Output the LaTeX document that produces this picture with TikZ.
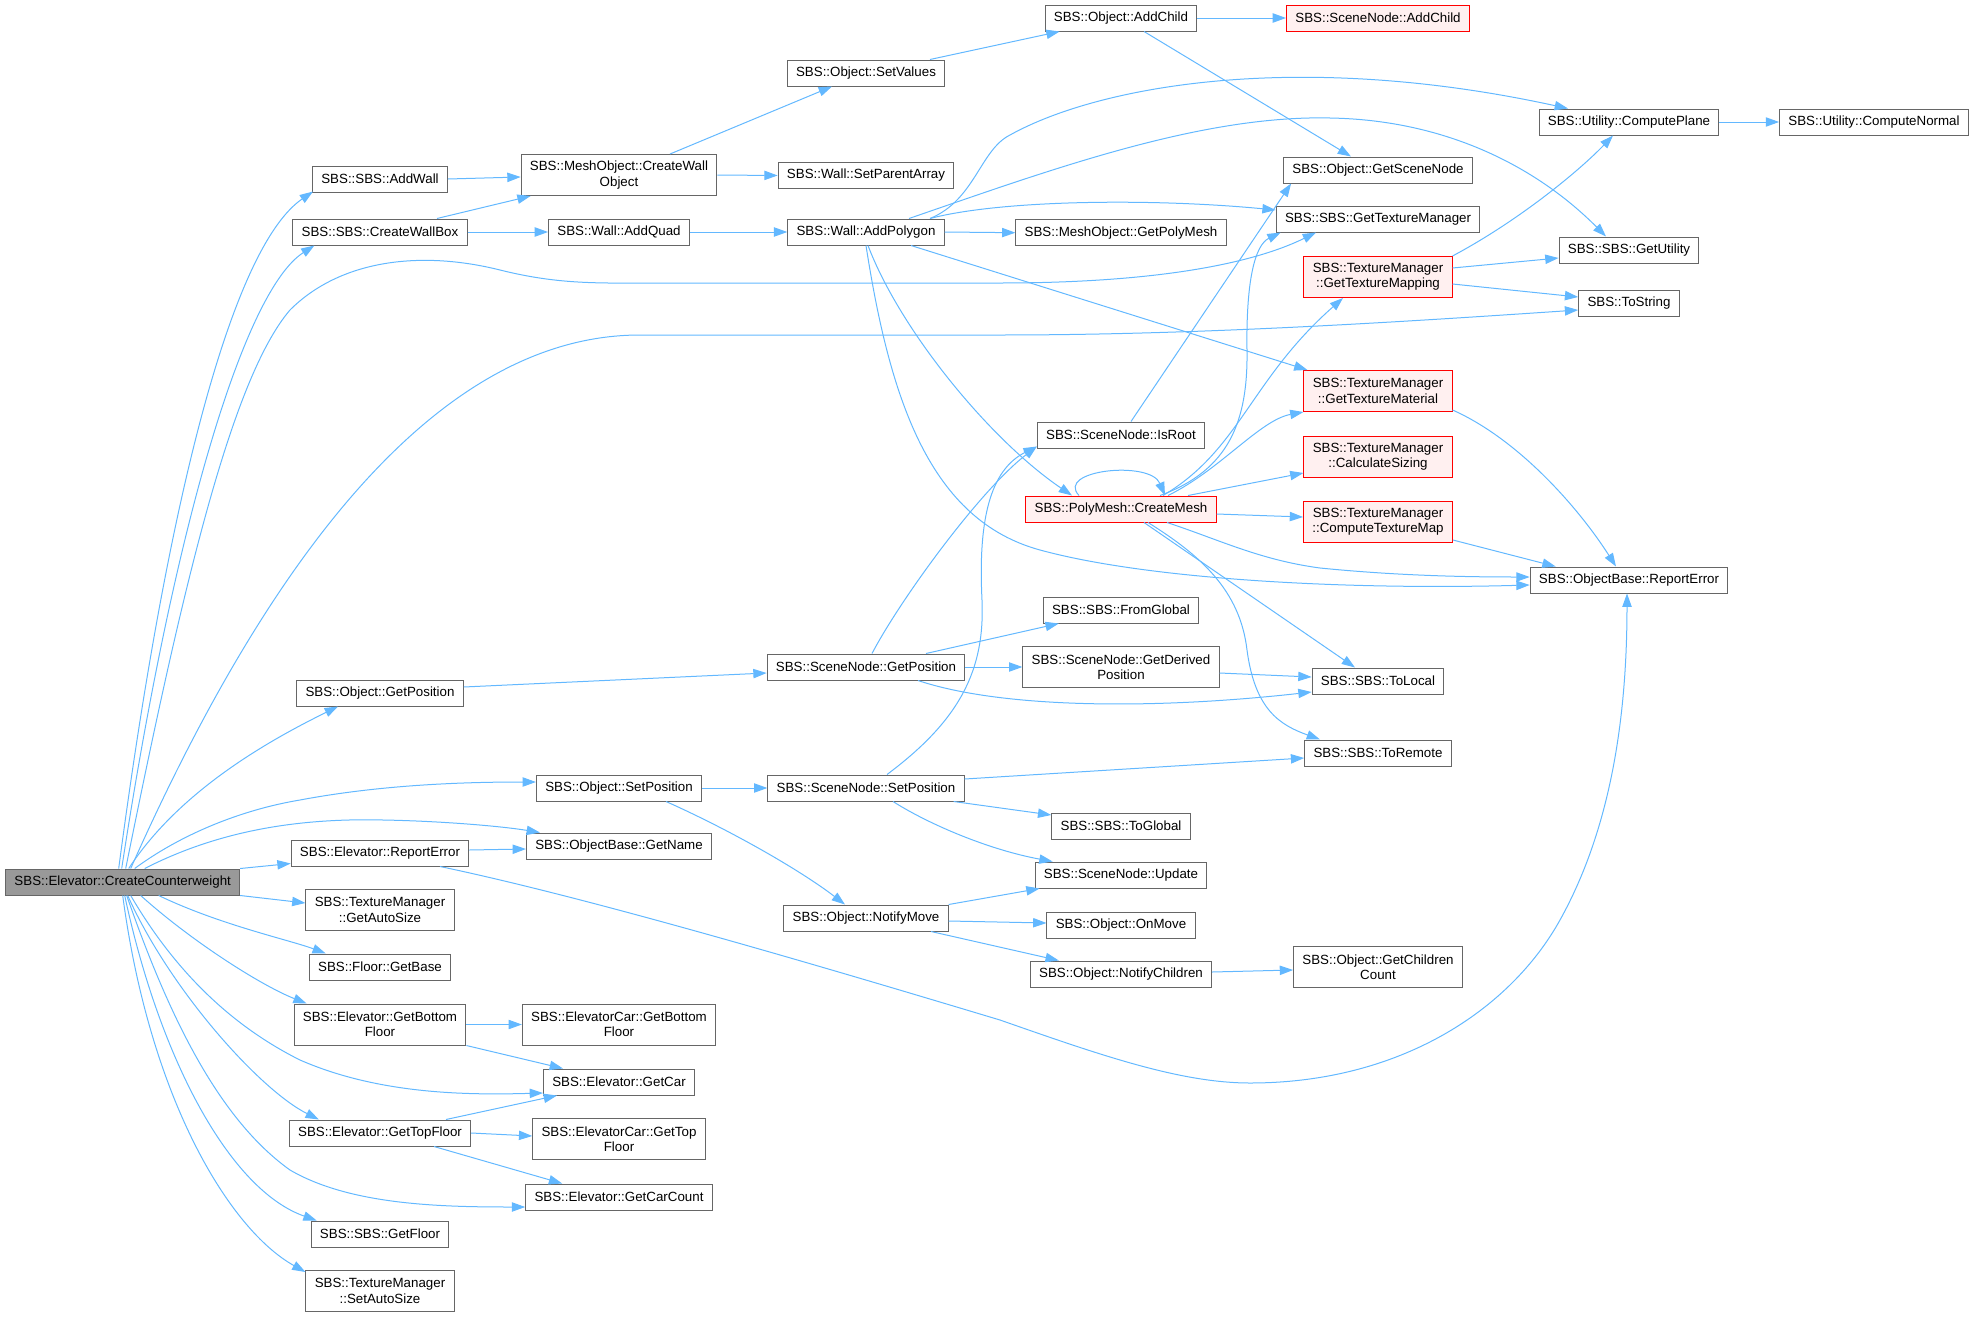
\documentclass[tikz,border=0pt]{standalone}
\usepackage{fontspec}
\setmainfont{Liberation Sans}
\usetikzlibrary{arrows.meta}
\definecolor{edgeblue}{HTML}{63B8FF}
\definecolor{nodegrey}{HTML}{666666}
\definecolor{rootgrey}{HTML}{999999}
\definecolor{redfill}{HTML}{FFF0F0}

\begin{document}
\begin{tikzpicture}[x=0.75pt,y=-0.75pt]
    \useasboundingbox (0,0) rectangle (1975,1317);

    \tikzset{fnbox/.style={draw=nodegrey,fill=white,line width=0.75pt,inner xsep=6.6pt,inner ysep=2pt,minimum height=19.5pt,align=center,font=\fontsize{10}{11.5}\selectfont}}
    \tikzset{fnboxx/.style={fnbox,minimum height=30.75pt}}
    \tikzset{fnred/.style={draw=red,fill=redfill}}
    \tikzset{callarrow/.style={draw=edgeblue,line width=0.75pt,-{Triangle[length=10pt,width=7pt]}}}

    \node[fnbox,fill=rootgrey] (root) at (122.7,882) {SBS::Elevator::CreateCounterweight};

    \node[fnbox] (addwall) at (380,179) {SBS::SBS::AddWall};
    \node[fnbox] (wallbox) at (380,232) {SBS::SBS::CreateWallBox};
    \node[fnbox] (objgetpos) at (380,693) {SBS::Object::GetPosition};
    \node[fnbox] (elevreport) at (380,853) {SBS::Elevator::ReportError};
    \node[fnboxx] (getautosize) at (380,910) {SBS::TextureManager\\::GetAutoSize};
    \node[fnbox] (getbase) at (380,967) {SBS::Floor::GetBase};
    \node[fnboxx] (elevbottom) at (380,1024.5) {SBS::Elevator::GetBottom\\Floor};
    \node[fnbox] (elevtop) at (380,1133) {SBS::Elevator::GetTopFloor};
    \node[fnbox] (getfloor) at (380,1234) {SBS::SBS::GetFloor};
    \node[fnboxx] (setautosize) at (380,1291) {SBS::TextureManager\\::SetAutoSize};

    \node[fnboxx] (wallobj) at (619,175) {SBS::MeshObject::CreateWall\\Object};
    \node[fnbox] (addquad) at (619,232) {SBS::Wall::AddQuad};
    \node[fnbox] (objsetpos) at (619,788) {SBS::Object::SetPosition};
    \node[fnbox] (getname) at (619,846) {SBS::ObjectBase::GetName};
    \node[fnboxx] (carbottom) at (619,1024.5) {SBS::ElevatorCar::GetBottom\\Floor};
    \node[fnbox] (getcar) at (619,1082) {SBS::Elevator::GetCar};
    \node[fnboxx] (cartop) at (619,1139) {SBS::ElevatorCar::GetTop\\Floor};
    \node[fnbox] (getcarcount) at (619,1197) {SBS::Elevator::GetCarCount};

    \node[fnbox] (setvalues) at (866,73) {SBS::Object::SetValues};
    \node[fnbox] (parentarray) at (866,175.5) {SBS::Wall::SetParentArray};
    \node[fnbox] (addpolygon) at (866,232) {SBS::Wall::AddPolygon};
    \node[fnbox] (nodegetpos) at (866,667) {SBS::SceneNode::GetPosition};
    \node[fnbox] (nodesetpos) at (866,788) {SBS::SceneNode::SetPosition};
    \node[fnbox] (notifymove) at (866,918) {SBS::Object::NotifyMove};

    \node[fnbox] (objaddchild) at (1121,18) {SBS::Object::AddChild};
    \node[fnbox] (getpolymesh) at (1121,232.7) {SBS::MeshObject::GetPolyMesh};
    \node[fnbox] (isroot) at (1121,435) {SBS::SceneNode::IsRoot};
    \node[fnbox,fnred] (createmesh) at (1121,509) {SBS::PolyMesh::CreateMesh};
    \node[fnbox] (fromglobal) at (1121,610) {SBS::SBS::FromGlobal};
    \node[fnboxx] (derivedpos) at (1121,667) {SBS::SceneNode::GetDerived\\Position};
    \node[fnbox] (toglobal) at (1121,826) {SBS::SBS::ToGlobal};
    \node[fnbox] (nodeupdate) at (1121,875) {SBS::SceneNode::Update};
    \node[fnbox] (onmove) at (1121,925) {SBS::Object::OnMove};
    \node[fnbox] (notifychildren) at (1121,974) {SBS::Object::NotifyChildren};

    \node[fnbox,fnred] (nodeaddchild) at (1378,18) {SBS::SceneNode::AddChild};
    \node[fnbox] (getscenenode) at (1378,170) {SBS::Object::GetSceneNode};
    \node[fnbox] (gettexmgr) at (1378,219) {SBS::SBS::GetTextureManager};
    \node[fnboxx,fnred] (texmapping) at (1378,277) {SBS::TextureManager\\::GetTextureMapping};
    \node[fnboxx,fnred] (texmaterial) at (1378,391) {SBS::TextureManager\\::GetTextureMaterial};
    \node[fnboxx,fnred] (calcsizing) at (1378,457) {SBS::TextureManager\\::CalculateSizing};
    \node[fnboxx,fnred] (texmap) at (1378,522) {SBS::TextureManager\\::ComputeTextureMap};
    \node[fnbox] (tolocal) at (1378,681) {SBS::SBS::ToLocal};
    \node[fnbox] (toremote) at (1378,753) {SBS::SBS::ToRemote};
    \node[fnboxx] (childcount) at (1378,967) {SBS::Object::GetChildren\\Count};

    \node[fnbox] (computeplane) at (1629,122) {SBS::Utility::ComputePlane};
    \node[fnbox] (getutility) at (1629,250) {SBS::SBS::GetUtility};
    \node[fnbox] (tostring) at (1629,303) {SBS::ToString};
    \node[fnbox] (reporterror) at (1629,580) {SBS::ObjectBase::ReportError};
    \node[fnbox] (computenormal) at (1874,122) {SBS::Utility::ComputeNormal};

    % calls of CreateCounterweight
    \draw[callarrow] ([shift={(-4,0)}]root.north) .. controls (170,480) and (235,245) .. ([shift={(1,-1)}]addwall.south west);
    \draw[callarrow] ([shift={(-1,0)}]root.north) .. controls (175,520) and (245,290) .. ([shift={(22,0)}]wallbox.south west);
    \draw[callarrow] ([shift={(3,0)}]root.north) .. controls (180,600) and (230,380) .. (290,310) .. controls (340,260) and (420,250) .. (500,270) .. controls (560,285) and (600,283) .. (660,283) -- (1000,283) .. controls (1150,283) and (1250,265) .. ([shift={(-62,0)}]gettexmgr.south);
    \draw[callarrow] ([shift={(8,0)}]root.north) .. controls (250,600) and (420,335) .. (640,335) -- (1000,335) .. controls (1200,335) and (1400,322) .. ([shift={(0,7)}]tostring.west);
    \draw[callarrow] ([shift={(6,0)}]root.north) .. controls (180,790) and (270,740) .. ([shift={(-42,0)}]objgetpos.south);
    \draw[callarrow] ([shift={(12,0)}]root.north) .. controls (180,835) and (240,810) .. (300,800) .. controls (380,785) and (460,782) .. ([shift={(0,-6)}]objsetpos.west);
    \draw[callarrow] ([shift={(22,0)}]root.north) .. controls (220,830) and (300,818) .. (383,820) .. controls (440,821) and (500,826) .. ([shift={(14,0)}]getname.north west);
    \draw[callarrow] (root.north east) -- ([shift={(0,-3)}]elevreport.south west);
    \draw[callarrow] (root.south east) -- ([shift={(0,-7)}]getautosize.west);
    \draw[callarrow] ([shift={(36,0)}]root.south) .. controls (220,925) and (290,940) .. ([shift={(17,0)}]getbase.north west);
    \draw[callarrow] ([shift={(18,0)}]root.south) .. controls (190,940) and (260,985) .. ([shift={(13,0)}]elevbottom.north west);
    \draw[callarrow] ([shift={(8,0)}]root.south) .. controls (180,980) and (240,1030) .. (300,1060) .. controls (380,1095) and (470,1095) .. ([shift={(0,11)}]getcar.west);
    \draw[callarrow] ([shift={(5,0)}]root.south) .. controls (170,990) and (260,1090) .. ([shift={(30,0)}]elevtop.north west);
    \draw[callarrow] ([shift={(4,0)}]root.south) .. controls (170,1020) and (220,1120) .. (290,1170) .. controls (350,1205) and (440,1207) .. ([shift={(0,10)}]getcarcount.west);
    \draw[callarrow] ([shift={(2,0)}]root.south) .. controls (160,1060) and (230,1190) .. ([shift={(6,0)}]getfloor.north west);
    \draw[callarrow] (root.south) .. controls (150,1100) and (230,1230) .. ([shift={(0,2)}]setautosize.north west);

    % wall creation
    \draw[callarrow] (addwall.east) -- ([shift={(0,2)}]wallobj.west);
    \draw[callarrow] ([shift={(57,0)}]wallbox.north) -- ([shift={(10,0)}]wallobj.south west);
    \draw[callarrow] (wallbox.east) -- (addquad.west);
    \draw[callarrow] ([shift={(51,0)}]wallobj.north) -- ([shift={(-34,0)}]setvalues.south);
    \draw[callarrow] (wallobj.east) -- (parentarray.west);
    \draw[callarrow] ([shift={(64,0)}]setvalues.north) -- ([shift={(15,0)}]objaddchild.south west);
    \draw[callarrow] (objaddchild.east) -- (nodeaddchild.west);
    \draw[callarrow] ([shift={(23,0)}]objaddchild.south) -- ([shift={(-27,0)}]getscenenode.north);
    \draw[callarrow] (addquad.east) -- (addpolygon.west);

    % AddPolygon
    \draw[callarrow] (addpolygon.east) -- (getpolymesh.west);
    \draw[callarrow] ([shift={(64,0)}]addpolygon.north) .. controls (975,200) and (980,150) .. (1010,135) .. controls (1100,85) and (1300,50) .. ([shift={(-61,0)}]computeplane.north);
    \draw[callarrow] ([shift={(43,0)}]addpolygon.north) .. controls (1050,170) and (1200,115) .. (1330,118) .. controls (1450,120) and (1540,170) .. ([shift={(-23,0)}]getutility.north);
    \draw[callarrow] ([shift={(64,0)}]addpolygon.north) .. controls (1000,200) and (1150,198) .. ([shift={(0,-9)}]gettexmgr.west);
    \draw[callarrow] ([shift={(45,0)}]addpolygon.south) -- ([shift={(4,0)}]texmaterial.north west);
    \draw[callarrow] ([shift={(2,0)}]addpolygon.south) .. controls (900,330) and (990,440) .. ([shift={(-49,0)}]createmesh.north);
    \draw[callarrow] (addpolygon.south) .. controls (890,400) and (930,520) .. (1040,550) .. controls (1150,580) and (1350,590) .. ([shift={(0,5)}]reporterror.west);

    % CreateMesh
    \draw[callarrow] ([shift={(-42,0)}]createmesh.north) .. controls (1055,470) and (1150,460) .. ([shift={(44,0)}]createmesh.north);
    \draw[callarrow] ([shift={(39,0)}]createmesh.north) .. controls (1230,470) and (1248,420) .. (1247,350) .. controls (1246,280) and (1255,245) .. ([shift={(5,0)}]gettexmgr.south west);
    \draw[callarrow] ([shift={(42,0)}]createmesh.north) .. controls (1240,450) and (1250,380) .. ([shift={(-35,0)}]texmapping.south);
    \draw[callarrow] ([shift={(47,0)}]createmesh.north) .. controls (1220,470) and (1260,420) .. (texmaterial.south west);
    \draw[callarrow] ([shift={(67,0)}]createmesh.north) -- ([shift={(0,16)}]calcsizing.west);
    \draw[callarrow] ([shift={(0,5)}]createmesh.east) -- ([shift={(0,-5)}]texmap.west);
    \draw[callarrow] ([shift={(46,0)}]createmesh.south) .. controls (1220,540) and (1260,560) .. (1320,568) .. controls (1400,576) and (1470,577) .. ([shift={(0,-3)}]reporterror.west);
    \draw[callarrow] ([shift={(23,0)}]createmesh.south) -- ([shift={(-23,0)}]tolocal.north);
    \draw[callarrow] ([shift={(27,0)}]createmesh.south) .. controls (1200,555) and (1240,590) .. (1247,650) .. controls (1255,710) and (1280,725) .. ([shift={(-58,0)}]toremote.north);

    % texture manager and utility
    \draw[callarrow] (texmapping.north east) .. controls (1520,220) and (1580,170) .. ([shift={(-16,0)}]computeplane.south);
    \draw[callarrow] ([shift={(0,-9)}]texmapping.east) -- ([shift={(0,8)}]getutility.west);
    \draw[callarrow] ([shift={(0,7)}]texmapping.east) -- ([shift={(0,-6)}]tostring.west);
    \draw[callarrow] (computeplane.east) -- (computenormal.west);
    \draw[callarrow] ([shift={(0,19)}]texmaterial.east) .. controls (1520,440) and (1580,510) .. ([shift={(-13,0)}]reporterror.north);
    \draw[callarrow] ([shift={(0,-3)}]texmap.south east) -- ([shift={(26,0)}]reporterror.north west);
    \draw[callarrow] ([shift={(10,0)}]isroot.north) -- ([shift={(8,0)}]getscenenode.south west);

    % positions
    \draw[callarrow] ([shift={(0,-6)}]objgetpos.east) -- ([shift={(0,6)}]nodegetpos.west);
    \draw[callarrow] ([shift={(6,0)}]nodegetpos.north) .. controls (900,600) and (980,490) .. ([shift={(0,-2)}]isroot.south west);
    \draw[callarrow] ([shift={(60,0)}]nodegetpos.north) -- ([shift={(16,0)}]fromglobal.south west);
    \draw[callarrow] (nodegetpos.east) -- (derivedpos.west);
    \draw[callarrow] ([shift={(52,0)}]nodegetpos.south) .. controls (1000,708) and (1150,710) .. ([shift={(0,11)}]tolocal.west);
    \draw[callarrow] ([shift={(0,6)}]derivedpos.east) -- ([shift={(0,-4)}]tolocal.west);
    \draw[callarrow] (objsetpos.east) -- (nodesetpos.west);
    \draw[callarrow] ([shift={(47,0)}]objsetpos.south) .. controls (730,830) and (800,870) .. ([shift={(-21,0)}]notifymove.north);
    \draw[callarrow] ([shift={(21,0)}]nodesetpos.north) .. controls (960,720) and (985,670) .. (982,600) .. controls (978,520) and (990,470) .. ([shift={(0,-2)}]isroot.south west);
    \draw[callarrow] ([shift={(0,-9)}]nodesetpos.east) -- ([shift={(0,5)}]toremote.west);
    \draw[callarrow] ([shift={(-11,0)}]nodesetpos.south east) -- ([shift={(0,-11)}]toglobal.west);
    \draw[callarrow] ([shift={(27,0)}]nodesetpos.south) .. controls (930,825) and (990,850) .. ([shift={(18,0)}]nodeupdate.north west);
    \draw[callarrow] (notifymove.north east) -- ([shift={(5,0)}]nodeupdate.south west);
    \draw[callarrow] ([shift={(0,3)}]notifymove.east) -- ([shift={(0,-2)}]onmove.west);
    \draw[callarrow] ([shift={(65,0)}]notifymove.south) -- ([shift={(29,0)}]notifychildren.north west);
    \draw[callarrow] ([shift={(0,-2)}]notifychildren.east) -- ([shift={(0,3)}]childcount.west);

    % elevator
    \draw[callarrow] ([shift={(0,-3)}]elevreport.east) -- ([shift={(0,3)}]getname.west);
    \draw[callarrow] ([shift={(60,0)}]elevreport.south) .. controls (600,900) and (850,975) .. (1000,1020) .. controls (1100,1055) and (1180,1083) .. (1250,1083) .. controls (1400,1083) and (1510,1010) .. (1560,920) .. controls (1610,830) and (1627,720) .. ([shift={(-2,0)}]reporterror.south);
    \draw[callarrow] (elevbottom.east) -- (carbottom.west);
    \draw[callarrow] (elevbottom.south east) -- ([shift={(20,0)}]getcar.north west);
    \draw[callarrow] ([shift={(66,0)}]elevtop.north) -- ([shift={(14,0)}]getcar.south west);
    \draw[callarrow] (elevtop.east) -- ([shift={(0,-3)}]cartop.west);
    \draw[callarrow] ([shift={(54,0)}]elevtop.south) -- ([shift={(37,0)}]getcarcount.north west);
\end{tikzpicture}
\end{document}
